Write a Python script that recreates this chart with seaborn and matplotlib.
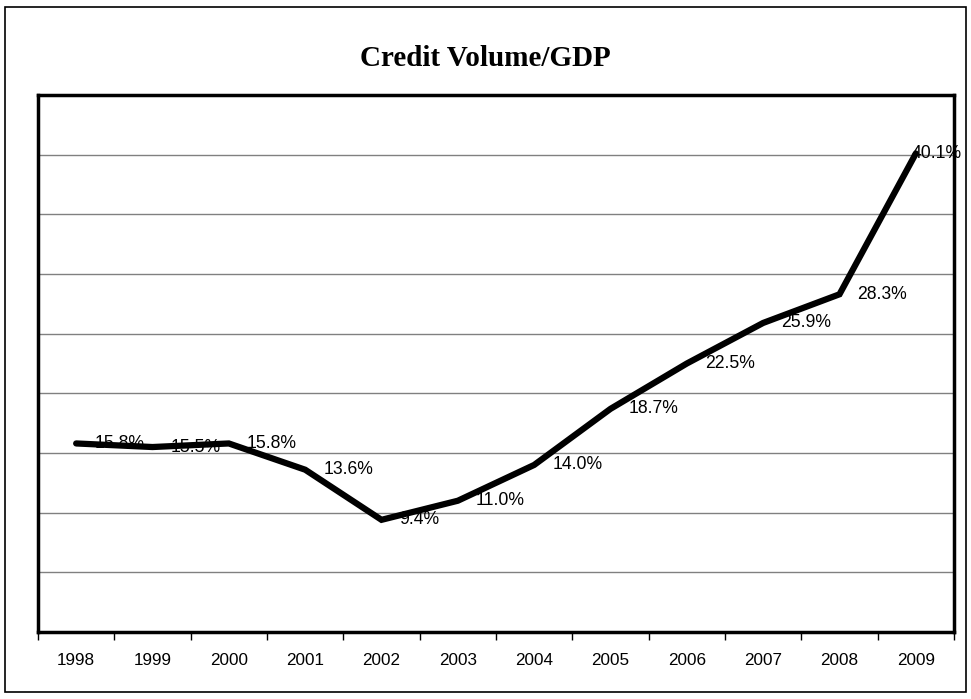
import matplotlib
matplotlib.use("Agg")
import matplotlib.pyplot as plt
import seaborn as sns
import pandas as pd
from matplotlib.patches import Rectangle

years = ["1998", "1999", "2000", "2001", "2002", "2003", "2004", "2005", "2006", "2007", "2008", "2009"]
values = [15.8, 15.5, 15.8, 13.6, 9.4, 11.0, 14.0, 18.7, 22.5, 25.9, 28.3, 40.1]
title = "Credit Volume/GDP"

sns.set_theme(style="white")
plt.rcParams['font.family'] = ['Liberation Sans', 'DejaVu Sans']
plt.rcParams['text.color'] = 'black'
plt.rcParams['xtick.color'] = 'black'
plt.rcParams['xtick.labelcolor'] = 'black'

df = pd.DataFrame({"year": years, "value": values})
df["pos"] = range(len(years))

fig = plt.figure(figsize=(9.71, 6.99), dpi=100)
fig.patch.set_facecolor("white")
ax = fig.add_axes([38/971, 1-632/699, (954-38)/971, (632-95)/699])

fig.add_artist(Rectangle((5/971, 1-692/699), (966-5)/971, (692-7)/699,
                         transform=fig.transFigure, fill=False, edgecolor="black", linewidth=1.2))

for g in range(5, 45, 5):
    ax.axhline(g, color="#808080", linewidth=1.0, zorder=1)

sns.lineplot(data=df, x="pos", y="value", ax=ax, color="black", linewidth=4.5,
             solid_joinstyle="miter", zorder=3, legend=False)

n = len(values)
for i, v in enumerate(values):
    dx = 13 if i < n - 1 else -3
    ax.annotate(f"{v:.1f}%", (i, v), xytext=(dx, 0), textcoords="offset points",
                ha="left", va="center", fontsize=12.7, color="black", zorder=4,
                annotation_clip=False)

ax.set_xlim(-0.5, len(years) - 0.5)
ax.set_ylim(0, 45)
ax.set_xticks([x - 0.5 for x in range(len(years) + 1)])
ax.set_xticklabels([])
ax.set_xticks(range(len(years)), minor=True)
ax.set_xticklabels(years, minor=True, fontsize=12.3, color="black")
ax.tick_params(axis="x", which="major", direction="out", length=6, width=1, color="black", bottom=True)
ax.tick_params(axis="x", which="minor", length=0, pad=15, labelcolor="black")
ax.set_yticks([])
ax.set_xlabel("")
ax.set_ylabel("")
for s in ax.spines.values():
    s.set_visible(True)
    s.set_color("black")
    s.set_linewidth(2.5)

fig.text(0.5, 1-59/699, title, ha="center", va="center", fontsize=21, fontweight="bold",
         color="black", family=["Liberation Serif", "DejaVu Serif"])

fig.savefig("out.png", dpi=100, facecolor="white")
